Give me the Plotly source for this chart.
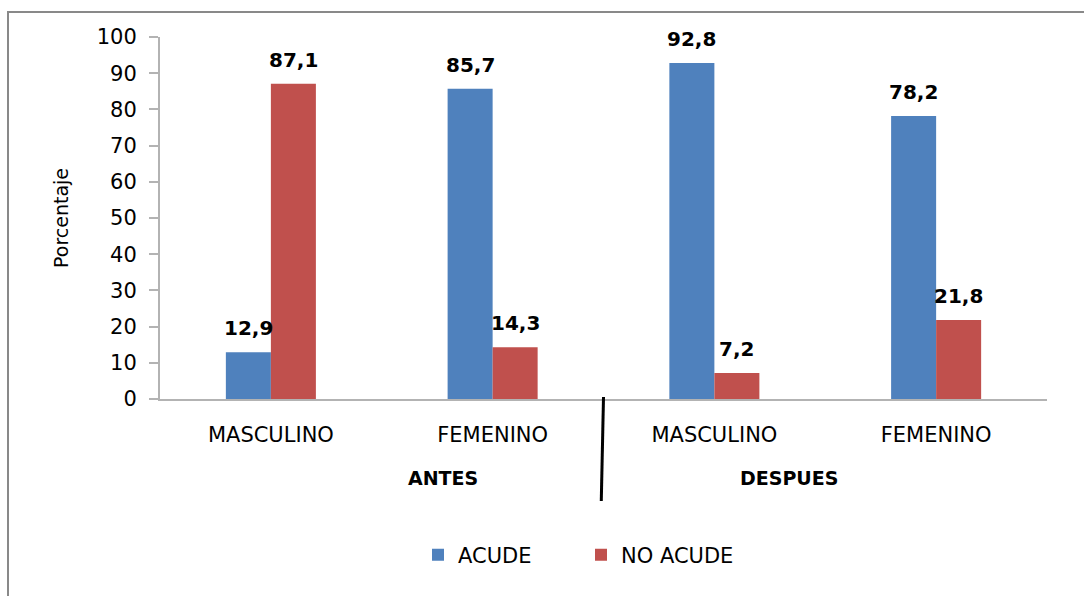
import plotly.graph_objects as go

categories = ["MASCULINO", "FEMENINO", "MASCULINO", "FEMENINO"]
groups = ["ANTES", "DESPUES"]
acude = [12.9, 85.7, 92.8, 78.2]
no_acude = [87.1, 14.3, 7.2, 21.8]
series_names = ["ACUDE", "NO ACUDE"]
colors = ["#4F81BD", "#C0504D"]
y_ticks = list(range(0, 101, 10))

W, H = 1084, 596
ML, MR, MT, MB = 160, 37, 37, 197
PW, PH = W - ML - MR, H - MT - MB

def px2x(px):
    return (px - ML) / PW

def py2y(py):
    return (H - MB - py) / PH

xpos = list(range(len(categories)))
fig = go.Figure()
for name, vals, col in zip(series_names, [acude, no_acude], colors):
    fig.add_trace(go.Bar(x=xpos, y=vals, name=name, marker=dict(color=col, line=dict(width=0)),
                         hoverinfo="skip"))

font_family = "DejaVu Sans"
# data labels
bar_w = 0.203
offsets = [-bar_w / 2, bar_w / 2]
annotations = []
for off, vals in zip(offsets, [acude, no_acude]):
    for xi, v in zip(xpos, vals):
        annotations.append(dict(x=xi + off, y=v, xref="x", yref="y", text=f"{v:.1f}".replace(".", ","),
                                showarrow=False, yanchor="bottom", yshift=10,
                                font=dict(family=font_family, size=20, color="#000000", weight="bold")))
# group labels
for g, gx in zip(groups, [443, 789]):
    annotations.append(dict(x=px2x(gx), y=py2y(478), xref="paper", yref="paper", text=f"<b>{g}</b>",
                            showarrow=False, xanchor="center", yanchor="middle",
                            font=dict(family=font_family, size=19, color="#000000")))
# y title
annotations.append(dict(x=px2x(61), y=py2y(218), xref="paper", yref="paper", text="Porcentaje",
                        showarrow=False, textangle=-90, xanchor="center", yanchor="middle",
                        font=dict(family=font_family, size=19, color="#000000")))

shapes = [
    # group separator
    dict(type="line", xref="x", yref="paper", x0=1.5, x1=1.49, y0=py2y(397), y1=py2y(501),
         line=dict(color="#000000", width=3)),
    # chart border (left and top)
    dict(type="line", xref="paper", yref="paper", x0=px2x(8), x1=px2x(8), y0=py2y(12), y1=py2y(600),
         line=dict(color="#898989", width=2)),
    dict(type="line", xref="paper", yref="paper", x0=px2x(7), x1=px2x(1090), y0=py2y(12), y1=py2y(12),
         line=dict(color="#898989", width=2)),
]

fig.update_layout(
    width=W, height=H,
    margin=dict(l=ML, r=MR, t=MT, b=MB, pad=0),
    paper_bgcolor="white", plot_bgcolor="white",
    barmode="group", bargap=0.594, bargroupgap=0,
    font=dict(family=font_family, color="#000000"),
    showlegend=True,
    legend=dict(orientation="h", x=px2x(418), y=py2y(555), xanchor="left", yanchor="middle",
                font=dict(family=font_family, size=21, color="#000000"),
                entrywidth=118, entrywidthmode="pixels", itemclick=False, traceorder="normal"),
    annotations=annotations,
    shapes=shapes,
    xaxis=dict(tickmode="array", tickvals=xpos, ticktext=categories, range=[-0.5, 3.5],
               showline=True, linecolor="#B3B3B3", linewidth=2, ticks="", showgrid=False,
               zeroline=False, tickfont=dict(family=font_family, size=21, color="#000000"),
               ticklabelstandoff=16),
    yaxis=dict(range=[0, 100], tickmode="array", tickvals=y_ticks, showline=True, linecolor="#B3B3B3",
               linewidth=2, ticks="outside", ticklen=9, tickcolor="#B3B3B3", tickwidth=2,
               showgrid=False, zeroline=False, ticklabelstandoff=8,
               tickfont=dict(family=font_family, size=21, color="#000000")),
)

fig.write_html("out.html")
